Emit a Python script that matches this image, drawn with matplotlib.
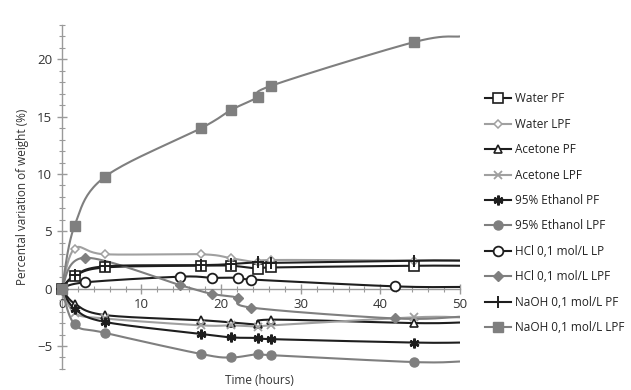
import numpy as np
import matplotlib
matplotlib.use('Agg')
import matplotlib.pyplot as plt

plt.rcParams['font.family'] = ['Open Sans', 'DejaVu Sans']

# sampling times (hours); last entry is the line end at 50 h (no marker)
t_main = [0, 1.6, 5.4, 17.5, 21.3, 24.6, 26.3, 44.2, 50]
t_hcl = [0, 2.9, 14.9, 18.8, 22.1, 23.8, 41.9, 50]

water_pf = [0, 1.1, 1.85, 2.0, 2.0, 1.75, 1.85, 2.0, 2.0]
water_lpf = [0, 3.5, 3.0, 3.0, 2.65, 2.3, 2.5, 2.45, 2.45]
acetone_pf = [0, -1.3, -2.3, -2.75, -2.95, -3.1, -2.7, -3.0, -2.95]
acetone_lpf = [0, -2.1, -2.6, -3.2, -3.2, -3.3, -3.2, -2.5, -2.5]
ethanol_pf = [0, -1.75, -2.9, -3.95, -4.25, -4.3, -4.4, -4.7, -4.7]
ethanol_lpf = [0, -3.1, -3.85, -5.7, -6.0, -5.7, -5.8, -6.4, -6.35]
hcl_lp = [0, 0.55, 1.05, 0.95, 0.95, 0.8, 0.2, 0.15]
hcl_lpf = [0, 2.7, 0.3, -0.45, -0.8, -1.65, -2.6, -2.45]
naoh_pf = [0, 1.15, 1.95, 2.05, 2.15, 2.3, 2.25, 2.45, 2.45]
naoh_lpf = [0, 5.5, 9.75, 14.0, 15.6, 16.7, 17.7, 21.5, 22.0]

labels = ['Water PF', 'Water LPF', 'Acetone PF', 'Acetone LPF',
          '95% Ethanol PF', '95% Ethanol LPF', 'HCl 0,1 mol/L LP',
          'HCl 0,1 mol/L LPF', 'NaOH 0,1 mol/L PF', 'NaOH 0,1 mol/L LPF']

BLACK = '#1e1e1e'
GRAY = '#7f7f7f'
LGRAY = '#a0a0a0'


def smooth(x, y, n=24):
    """Bezier smoothing like a spreadsheet 'smoothed line'."""
    p = np.column_stack([x, y]).astype(float)
    out = [p[0]]
    s = np.linspace(0, 1, n)[1:, None]
    for i in range(len(p) - 1):
        p0 = p[i - 1] if i > 0 else p[i]
        p1, p2 = p[i], p[i + 1]
        p3 = p[i + 2] if i + 2 < len(p) else p[i + 1]
        c1 = p1 + (p2 - p0) / 6.0
        c2 = p2 - (p3 - p1) / 6.0
        seg = ((1 - s) ** 3) * p1 + 3 * ((1 - s) ** 2) * s * c1 + \
            3 * (1 - s) * s ** 2 * c2 + s ** 3 * p2
        out.extend(seg)
    out = np.array(out)
    return out[:, 0], out[:, 1]


series = [
    (t_main, water_pf, BLACK, dict(marker='s', mfc='white', mec=BLACK, ms=6.5, mew=1.2)),
    (t_main, water_lpf, LGRAY, dict(marker='D', mfc='white', mec=LGRAY, ms=4.5, mew=1.1)),
    (t_main, acetone_pf, BLACK, dict(marker='^', mfc='white', mec=BLACK, ms=6, mew=1.2)),
    (t_main, acetone_lpf, LGRAY, dict(marker='x', mec=LGRAY, ms=6, mew=1.3)),
    (t_main, ethanol_pf, BLACK, dict(marker=(6, 2, 0), mec=BLACK, ms=7, mew=1.8)),
    (t_main, ethanol_lpf, GRAY, dict(marker='o', mfc=GRAY, mec=GRAY, ms=6.5)),
    (t_hcl, hcl_lp, BLACK, dict(marker='o', mfc='white', mec=BLACK, ms=7, mew=1.3)),
    (t_hcl, hcl_lpf, GRAY, dict(marker='D', mfc=GRAY, mec=GRAY, ms=5)),
    (t_main, naoh_pf, BLACK, dict(marker='+', mec=BLACK, ms=8, mew=1.4)),
    (t_main, naoh_lpf, GRAY, dict(marker='s', mfc=GRAY, mec=GRAY, ms=7)),
]

fig = plt.figure(figsize=(6.31, 3.90), dpi=100)
ax = fig.add_axes([0.098, 0.054, 0.631, 0.882])

handles = []
for k, (t, v, col, mk) in enumerate(series):
    xs, ys = smooth(t, v)
    ax.plot(xs, ys, color=col, lw=1.5, zorder=2 + k * 0.1, solid_capstyle='butt')
    ax.plot(t[:-1], v[:-1], ls='none', zorder=3 + k * 0.1, clip_on=False, **mk)
    h, = ax.plot([], [], color=col, lw=1.5, label=labels[k], **mk)
    handles.append(h)

ax.set_xlim(0, 50)
ax.set_ylim(-7, 23)
ax.set_xticks(np.arange(0, 51, 10))
ax.set_xticks(np.arange(0, 51, 2), minor=True)
ax.set_yticks([-5, 0, 5, 10, 15, 20])
ax.set_yticks(np.arange(-7, 24, 1), minor=True)

for side in ['top', 'right']:
    ax.spines[side].set_visible(False)
ax.spines['bottom'].set_position(('data', 0))
for side in ['left', 'bottom']:
    ax.spines[side].set_color('#9a9a9a')
    ax.spines[side].set_linewidth(1.0)
    ax.spines[side].set_zorder(1)

ax.tick_params(which='major', direction='inout', length=7, width=1.0,
               color='#9a9a9a', labelsize=9.5, labelcolor='#333333')
ax.tick_params(which='minor', direction='inout', length=4, width=0.8,
               color='#9a9a9a')
ax.tick_params(axis='x', pad=3)

ax.set_ylabel('Percental variation of weight (%)', fontsize=8.5,
              color='#333333', labelpad=6)
fig.text(0.411, 0.025, 'Time (hours)', ha='center', va='center',
         fontsize=8.5, color='#333333')

fig.legend(handles=handles, loc='upper left', bbox_to_anchor=(0.760, 0.778),
           frameon=False, fontsize=8.5, handlelength=2.2, handletextpad=0.3,
           labelspacing=1.05, borderpad=0, labelcolor='#222222')

fig.savefig('out.png', dpi=100)
